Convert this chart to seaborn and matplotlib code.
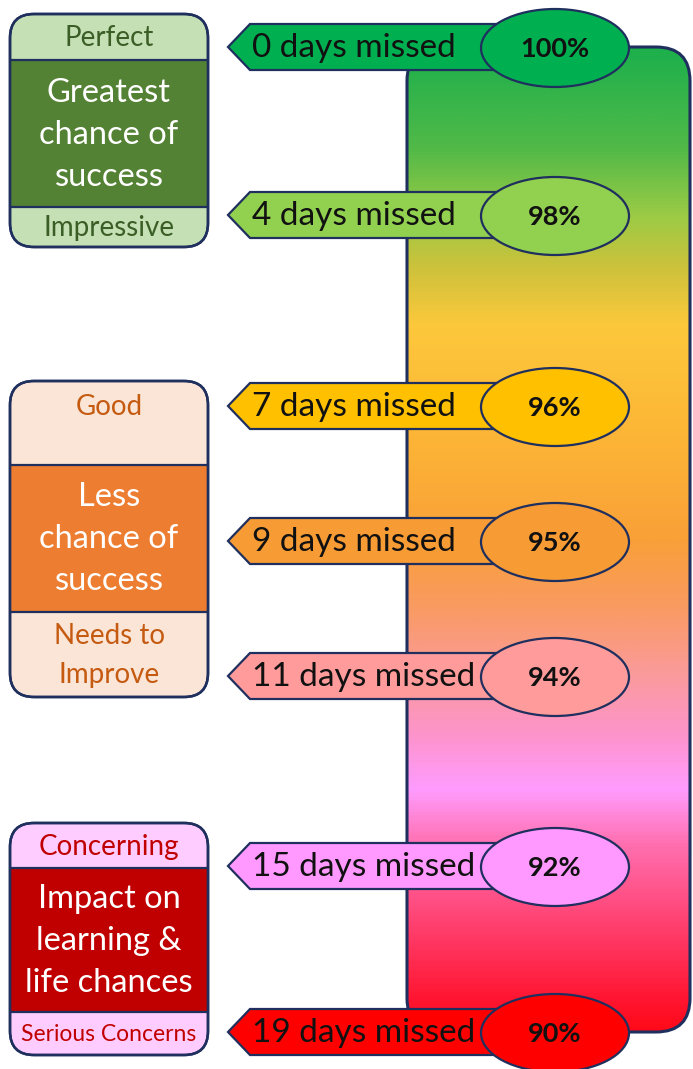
import numpy as np
import matplotlib.pyplot as plt
import seaborn as sns
from matplotlib.patches import FancyBboxPatch, Polygon, Ellipse, Rectangle
from matplotlib.colors import LinearSegmentedColormap

# attendance data
days_missed = [0, 4, 7, 9, 11, 15, 19]
attendance = [100, 98, 96, 95, 94, 92, 90]
row_colors = ["#00b050", "#92d050", "#ffc000", "#f79b35", "#ff9b9b", "#ff99ff", "#ff0000"]
row_y = [47, 215, 406, 541, 676, 866, 1032]

# left hand bands
band_top = ["Perfect", "Good", "Concerning"]
band_mid = ["Greatest\nchance of\nsuccess", "Less\nchance of\nsuccess", "Impact on\nlearning &\nlife chances"]
band_bot = ["Impressive", "Needs to\nImprove", "Serious Concerns"]
band_light = ["#c5e0b4", "#fbe5d6", "#ffccff"]
band_dark = ["#548235", "#ed7d31", "#c00000"]
band_text = ["#3b5e26", "#c55a11", "#c00000"]
band_box = [(14, 60, 207, 247), (381, 465, 612, 697), (823, 868, 1012, 1055)]

# gradient stops (position 0..1 down the bar)
grad_pos = [0.0, 0.1, 0.17, 0.22, 0.28, 0.38, 0.5, 0.57, 0.64, 0.7, 0.755, 0.81, 0.89, 0.97, 1.0]
grad_col = ["#1db04c", "#50b948", "#9ccb45", "#cbc23b", "#fcc83c", "#fdb836", "#f9a038",
            "#f99a62", "#fb9a9e", "#fd94cc", "#ff9cff", "#ff70b0", "#ff4272", "#ff1530", "#ff0a1a"]

sns.set_theme(style="white")
plt.rcParams['font.family'] = ['Lato', 'DejaVu Sans']

fig = plt.figure(figsize=(6.93, 10.69), dpi=100)
ax = fig.add_axes([0, 0, 1, 1])
ax.set_xlim(0, 693)
ax.set_ylim(1069, 0)
ax.axis('off')

edge = "#1f2f5e"

# gradient bar
bx0, bx1, by0, by1 = 407, 690, 47, 1032
cmap = LinearSegmentedColormap.from_list("att", list(zip(grad_pos, grad_col)))
bar = FancyBboxPatch((bx0, by0), bx1 - bx0, by1 - by0,
                     boxstyle="round,pad=0,rounding_size=34",
                     facecolor="none", edgecolor=edge, lw=2.2, zorder=2)
ax.add_patch(bar)
grad = np.linspace(0, 1, 600).reshape(-1, 1)
im = ax.imshow(grad, extent=(bx0, bx1, by1, by0), cmap=cmap, aspect='auto', zorder=1)
im.set_clip_path(bar)

# arrows + ellipses
for d, p, c, y in zip(days_missed, attendance, row_colors, row_y):
    arrow = Polygon([(228, y), (250, y - 23), (525, y - 23), (525, y + 23), (250, y + 23)],
                    closed=True, facecolor=c, edgecolor=edge, lw=1.6, zorder=3)
    ax.add_patch(arrow)
    ax.text(252, y + 1, f"{d} days missed", ha='left', va='center',
            fontsize=24, color="#111111", zorder=5)
    ell = Ellipse((555, y + 1), 148, 78, facecolor=c, edgecolor=edge, lw=1.6, zorder=4)
    ax.add_patch(ell)
    ax.text(555, y + 2, f"{p}%", ha='center', va='center', fontsize=19.5,
            fontweight='bold', color="#111111", zorder=5)

# left boxes
for i in range(3):
    t0, m0, m1, b1 = band_box[i]
    box = FancyBboxPatch((10, t0), 198, b1 - t0, boxstyle="round,pad=0,rounding_size=24",
                         facecolor=band_light[i], edgecolor=edge, lw=1.8, zorder=2)
    ax.add_patch(box)
    mid = Rectangle((10, m0), 198, m1 - m0, facecolor=band_dark[i], edgecolor=edge,
                    lw=1.6, zorder=3)
    mid.set_clip_path(box)
    ax.add_patch(mid)
    ax.add_patch(FancyBboxPatch((10, t0), 198, b1 - t0, boxstyle="round,pad=0,rounding_size=24",
                                facecolor="none", edgecolor=edge, lw=1.8, zorder=4))
    ty = min((t0 + m0) / 2, t0 + 25)
    ax.text(109, ty + 1, band_top[i], ha='center', va='center',
            fontsize=20, color=band_text[i], zorder=5)
    ax.text(109, (m0 + m1) / 2 + 1, band_mid[i], ha='center', va='center',
            fontsize=23.5, color="white", linespacing=1.5, zorder=5)
    bsize = 16.5 if i == 2 else 20
    ax.text(109, (m1 + b1) / 2 + 1, band_bot[i], ha='center', va='center',
            fontsize=bsize, color=band_text[i], linespacing=1.62, zorder=5)

fig.savefig("out.png", dpi=100)
